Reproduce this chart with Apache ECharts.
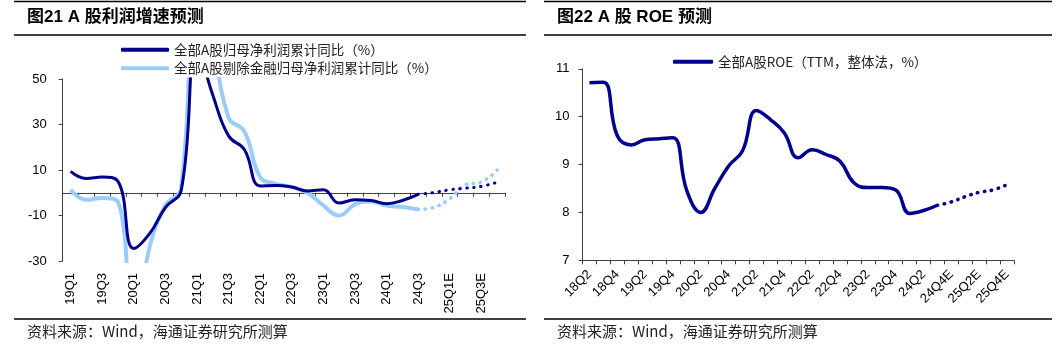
<!DOCTYPE html>
<html>
<head>
<meta charset="utf-8">
<script src="https://cdn.jsdelivr.net/npm/echarts@6/dist/echarts.min.js"></script>
<style>
html,body{margin:0;padding:0;background:#fff;}
#c{width:1057px;height:347px;}
</style>
</head>
<body>
<div id="c"></div>
<script>
// ---- Left chart data ----
const cats1 = ['19Q1','19Q2','19Q3','19Q4','20Q1','20Q2','20Q3','20Q4','21Q1','21Q2','21Q3','21Q4',
  '22Q1','22Q2','22Q3','22Q4','23Q1','23Q2','23Q3','23Q4','24Q1','24Q2','24Q3','24Q4E','25Q1E','25Q2E','25Q3E','25Q4E'];
const allA = [9.4,6.3,6.9,5.0,-24.5,-18.0,-6.5,1.0,64,43,25,19,3.0,3.2,2.5,0.8,1.3,-4.5,-3.1,-3.4,-4.8,-3.4,-0.7];
const allAForecast = [-0.7,0.1,1.3,2.0,2.8,4.6];
const exFin = [1.3,-3.1,-2.3,-4.0,-60,-24,-5.6,2,110,70,33,27,6.9,3.9,2.5,0,-5.6,-10,-5.1,-3.8,-5.6,-6.3,-7.3];
const exFinForecast = [-7.3,-6.4,-2.6,3.5,4.7,10.0];
const yTicks1 = {min:-30, max:50, interval:20};

// ---- Right chart data ----
const cats2 = ['18Q2','18Q3','18Q4','19Q1','19Q2','19Q3','19Q4','20Q1','20Q2','20Q3','20Q4','21Q1','21Q2','21Q3','21Q4',
  '22Q1','22Q2','22Q3','22Q4','23Q1','23Q2','23Q3','23Q4','24Q1','24Q2','24Q3','24Q4E','25Q1E','25Q2E','25Q3E','25Q4E'];
const roe = [10.71,10.72,9.6,9.41,9.52,9.54,9.56,8.45,8.0,8.5,8.97,9.29,10.13,9.94,9.66,9.14,9.31,9.21,9.07,8.62,8.52,8.52,8.47,7.98,8.04,8.15];
const roeForecast = [8.15,8.22,8.33,8.42,8.47,8.58];
const yTicks2 = {min:7, max:11, interval:1};

function pad(actual, forecast, total){
  const out = new Array(total).fill(null);
  const start = actual.length - 1;
  forecast.forEach((v,i)=>{ out[start+i] = v; });
  return out;
}

const NAVY = '#00008c';
const LIGHT = '#99ccff';
const FONT = "'Liberation Sans', Arial, 'Noto Sans CJK SC', sans-serif";
const CJK = "'Noto Sans CJK SC', 'Liberation Sans', sans-serif";
const AX = '#404040';
const SM = 0.45;

const chart = echarts.init(document.getElementById('c'), null, {renderer:'canvas'});
const dotStyle = {type:[0.5,6.5], cap:'round'};

chart.setOption({
  animation:false,
  backgroundColor:'#fff',
  grid:[
    {left:62.7, top:79, width:442.3, height:182, containLabel:false},
    {left:582.5, top:68.8, width:431.5, height:191.5, containLabel:false}
  ],
  legend:[
    {orient:'vertical', left:121, top:43, padding:0, itemWidth:48, itemHeight:4, itemGap:5, icon:'roundRect',
     data:['全部A股归母净利润累计同比（%）','全部A股剔除金融归母净利润累计同比（%）'],
     textStyle:{fontSize:13.5, color:'#222', fontFamily:CJK}},
    {orient:'horizontal', left:673, top:55, padding:0, itemWidth:40, itemHeight:4, icon:'roundRect',
     data:['全部A股ROE（TTM，整体法，%）'],
     textStyle:{fontSize:13.5, color:'#222', fontFamily:CJK}}
  ],
  xAxis:[
    {type:'category', gridIndex:0, data:cats1, position:'bottom', boundaryGap:true,
     axisLine:{show:false, onZero:false}, axisTick:{show:false},
     axisLabel:{rotate:90, interval:1, margin:12, fontSize:13, color:'#000', fontFamily:FONT}},
    {type:'category', gridIndex:0, data:cats1, position:'top', boundaryGap:true,
     axisLine:{show:true, onZero:true, lineStyle:{color:AX, width:1}},
     axisTick:{show:true, inside:true, interval:0, length:4, lineStyle:{color:AX}},
     axisLabel:{show:false}},
    {type:'category', gridIndex:1, data:cats2, position:'bottom', boundaryGap:true,
     axisLine:{show:true, lineStyle:{color:AX, width:1}},
     axisTick:{show:true, interval:0, length:4, lineStyle:{color:AX}},
     axisLabel:{rotate:45, interval:1, margin:12, fontSize:13, color:'#000', fontFamily:FONT}}
  ],
  yAxis:[
    {type:'value', gridIndex:0, min:yTicks1.min, max:yTicks1.max, interval:yTicks1.interval,
     axisLine:{show:true, lineStyle:{color:AX}}, axisTick:{show:true, length:4, lineStyle:{color:AX}},
     splitLine:{show:false}, axisLabel:{margin:16, fontSize:13, color:'#000', fontFamily:FONT}},
    {type:'value', gridIndex:1, min:yTicks2.min, max:yTicks2.max, interval:yTicks2.interval,
     axisLine:{show:true, lineStyle:{color:AX}}, axisTick:{show:true, length:4, lineStyle:{color:AX}},
     splitLine:{show:false}, axisLabel:{margin:13, fontSize:13, color:'#000', fontFamily:FONT}}
  ],
  series:[
    {name:'全部A股剔除金融归母净利润累计同比（%）', type:'line', xAxisIndex:0, yAxisIndex:0, data:exFin,
     smooth:SM, symbol:'none', color:LIGHT, lineStyle:{width:4, color:LIGHT}, clip:true, z:2},
    {name:'exfin-f', type:'line', xAxisIndex:0, yAxisIndex:0, data:pad(exFin, exFinForecast, cats1.length),
     smooth:SM, symbol:'none', color:LIGHT, lineStyle:Object.assign({width:3.5, color:LIGHT}, dotStyle), z:2},
    {name:'全部A股归母净利润累计同比（%）', type:'line', xAxisIndex:0, yAxisIndex:0, data:allA,
     smooth:SM, symbol:'none', color:NAVY, lineStyle:{width:3, color:NAVY}, clip:true, z:3},
    {name:'allA-f', type:'line', xAxisIndex:0, yAxisIndex:0, data:pad(allA, allAForecast, cats1.length),
     smooth:SM, symbol:'none', color:NAVY, lineStyle:Object.assign({width:3, color:NAVY}, dotStyle), z:3},
    {name:'全部A股ROE（TTM，整体法，%）', type:'line', xAxisIndex:2, yAxisIndex:1, data:roe,
     smooth:SM, symbol:'none', color:NAVY, lineStyle:{width:3.5, color:NAVY}},
    {name:'roe-f', type:'line', xAxisIndex:2, yAxisIndex:1, data:pad(roe, roeForecast, cats2.length),
     smooth:SM, symbol:'none', color:NAVY, lineStyle:Object.assign({width:3.5, color:NAVY}, dotStyle)}
  ],
  graphic:[
    {type:'line', shape:{x1:14,y1:1.5,x2:526,y2:1.5}, style:{stroke:'#000', lineWidth:1.5}},
    {type:'line', shape:{x1:14,y1:35,x2:526,y2:35}, style:{stroke:'#000', lineWidth:1.5}},
    {type:'line', shape:{x1:14,y1:319,x2:526,y2:319}, style:{stroke:'#000', lineWidth:1.5}},
    {type:'line', shape:{x1:544,y1:1.5,x2:1052,y2:1.5}, style:{stroke:'#000', lineWidth:1.5}},
    {type:'line', shape:{x1:544,y1:35,x2:1052,y2:35}, style:{stroke:'#000', lineWidth:1.5}},
    {type:'line', shape:{x1:544,y1:319,x2:1052,y2:319}, style:{stroke:'#000', lineWidth:1.5}},
    {type:'text', left:27, top:9, style:{text:'图21 A 股利润增速预测', fontSize:17, fontWeight:'bold', fill:'#000', fontFamily:FONT}},
    {type:'text', left:557, top:9, style:{text:'图22 A 股 ROE 预测', fontSize:17, fontWeight:'bold', fill:'#000', fontFamily:FONT}},
    {type:'text', left:27, top:324, style:{text:'资料来源：Wind，海通证券研究所测算', fontSize:15, fill:'#222', fontFamily:CJK}},
    {type:'text', left:557, top:324, style:{text:'资料来源：Wind，海通证券研究所测算', fontSize:15, fill:'#222', fontFamily:CJK}}
  ]
});
</script>
</body>
</html>
